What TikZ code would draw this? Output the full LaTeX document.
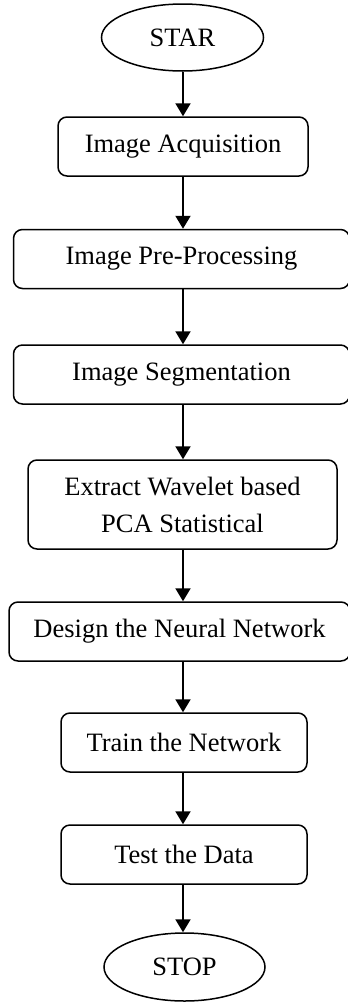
\documentclass[tikz,border=0pt]{standalone}
\usepackage{fontspec}
\setmainfont{Liberation Serif}
\usetikzlibrary{arrows.meta,shapes.geometric}
\begin{document}
\begin{tikzpicture}[
  box/.style={draw, line width=1.5pt, rounded corners=9pt, inner sep=0pt, minimum height=59pt, font=\fontsize{26.5}{31}\selectfont},
  term/.style={draw, ellipse, line width=1.5pt, inner sep=0pt, font=\fontsize{26.5}{31}\selectfont},
  arr/.style={line width=2pt, -{Triangle[width=15pt,length=13pt]}}]
\useasboundingbox (0pt,0pt) rectangle (348pt,-1004pt);
\node[term, minimum width=162pt, minimum height=67pt] (star) at (182.5pt,-37.5pt) {STAR};
\node[box, minimum width=250pt] (acq) at (183pt,-146.5pt) {Image Acquisition};
\node[box, minimum width=336pt] (pre) at (181.5pt,-259pt) {Image Pre-Processing};
\node[box, minimum width=336pt] (seg) at (181.5pt,-374.5pt) {Image Segmentation};
\node[box, minimum width=309pt, minimum height=89pt, align=center, font=\fontsize{26.5}{37}\selectfont] (feat) at (182.5pt,-504.5pt) {Extract Wavelet based\\PCA Statistical};
\node[box, minimum width=341pt] (ann) at (179.5pt,-631.5pt) {Design the Neural Network};
\node[box, minimum width=246pt] (train) at (184pt,-742.5pt) {Train the Network};
\node[box, minimum width=246pt] (test) at (184pt,-854.5pt) {Test the Data};
\node[term, minimum width=161pt, minimum height=68pt] (stop) at (184.5pt,-967pt) {STOP};
\foreach \a/\b in {star/acq, acq/pre, pre/seg, seg/feat, feat/ann, ann/train, train/test, test/stop}
  \draw[arr] (\a.south -| acq) -- (\b.north -| acq);
\end{tikzpicture}
\end{document}
